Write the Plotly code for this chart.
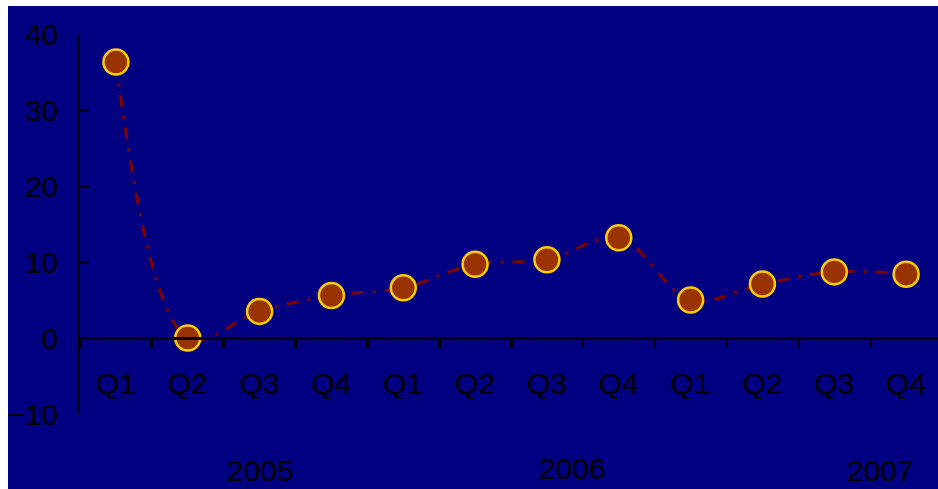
import plotly.graph_objects as go

# Quarterly series, 2005 Q1 to 2007 Q4
quarters = ["Q1", "Q2", "Q3", "Q4", "Q1", "Q2", "Q3", "Q4", "Q1", "Q2", "Q3", "Q4"]
years = ["2005", "2006", "2007"]
values = [36.3, 0.0, 3.5, 5.6, 6.6, 9.7, 10.3, 13.2, 5.0, 7.1, 8.7, 8.4]
y_ticks = [-10, 0, 10, 20, 30, 40]

positions = list(range(len(quarters)))

W, H = 938, 489
ML, MR, MT, MB = 80, 0, 34, 75
PW, PH = W - ML - MR, H - MT - MB

FONT = "Liberation Sans, Arial, sans-serif"
FS = 30
NAVY = "#000080"

fig = go.Figure()
fig.add_trace(go.Scatter(
    x=positions,
    y=values,
    mode="lines+markers",
    line=dict(color="#800000", width=3, shape="spline", dash="12px,9px,3px,9px"),
    marker=dict(size=25, color="#993300", line=dict(color="#FFCC00", width=2.5)),
    showlegend=False,
    hoverinfo="skip",
))

def px_x(px):
    return (px - ML) / PW

def px_y(py):
    return (H - MB - py) / PH

# navy panel behind everything, leaving a thin white edge top and left
fig.add_shape(
    type="rect", xref="paper", yref="paper",
    x0=px_x(8), x1=1.05, y0=px_y(520), y1=px_y(6),
    fillcolor=NAVY, line=dict(width=0), layer="below",
)

# year group labels
year_pos = [(260, 470), (572, 468), (880, 470)]
for label, (cx, cy) in zip(years, year_pos):
    fig.add_annotation(
        text=label, xref="paper", yref="paper",
        x=px_x(cx), y=px_y(cy), xanchor="center", yanchor="middle",
        showarrow=False, font=dict(family=FONT, size=FS, color="black"),
    )

ymin, ymax = -10, 40
fig.update_layout(
    width=W, height=H,
    margin=dict(l=ML, r=MR, t=MT, b=MB, pad=0),
    paper_bgcolor="white",
    plot_bgcolor=NAVY,
    font=dict(family=FONT, size=FS, color="black"),
    xaxis=dict(
        range=[-0.5, 11.444],
        tickmode="array", tickvals=positions, ticktext=quarters,
        ticks="", showgrid=False, zeroline=False,
        showline=True, linecolor="black", linewidth=2.5,
        anchor="free", position=(0 - ymin) / (ymax - ymin),
        ticklabelstandoff=18,
        minor=dict(tickmode="linear", tick0=0.5, dtick=1, ticks="outside",
                   ticklen=8, tickwidth=2.5, tickcolor="black", showgrid=False),
        tickfont=dict(family=FONT, size=FS, color="black"),
    ),
    yaxis=dict(
        range=[ymin, ymax],
        tickmode="array", tickvals=y_ticks,
        ticks="inside", ticklen=9, tickwidth=2.5, tickcolor="black",
        showline=True, linecolor="black", linewidth=2.5,
        showgrid=False, zeroline=False,
        ticklabelstandoff=13,
        tickfont=dict(family=FONT, size=FS, color="black"),
    ),
)

fig.write_html("out.html")
